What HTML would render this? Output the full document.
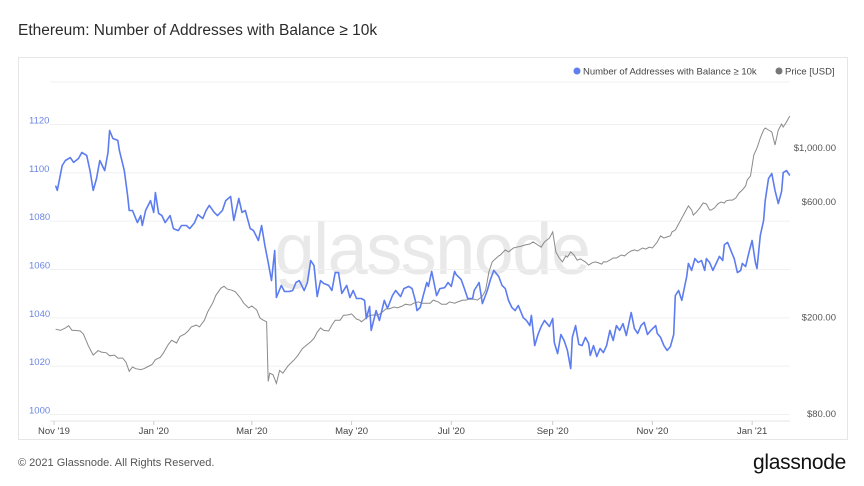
<!DOCTYPE html>
<html><head><meta charset="utf-8">
<style>
html,body{margin:0;padding:0;background:#fff;}
body{width:864px;height:486px;position:relative;overflow:hidden;font-family:"Liberation Sans",sans-serif;}
#title{position:absolute;left:18px;top:22px;font-size:15.5px;color:#2b2b2b;}
#card{position:absolute;left:18px;top:57px;width:830px;height:383px;border:1px solid #e6e6e6;box-sizing:border-box;}
#footer{position:absolute;left:18px;top:457px;font-size:11px;color:#555;}
#logo{position:absolute;left:753px;top:451px;font-size:21px;color:#111;letter-spacing:-0.3px;}
svg{position:absolute;left:0;top:0;}
</style></head><body>
<div id="title">Ethereum: Number of Addresses with Balance ≥ 10k</div>
<div id="card"></div>
<svg id="chart" width="864" height="486"></svg>
<div id="footer">© 2021 Glassnode. All Rights Reserved.</div>
<div id="logo">glassnode</div>
<script>
const leftTicks=[1000,1020,1040,1060,1080,1100,1120];
const rightTicks=[80,200,600,1000];
const rightTickLabels=["$80.00","$200.00","$600.00","$1,000.00"];
const xTickDays=[0,61,121,182,243,305,366,427];
const xTickLabels=["Nov '19","Jan '20","Mar '20","May '20","Jul '20","Sep '20","Nov '20","Jan '21"];
const addrSeries=[[1,94.7],[2,92.7],[5,103],[7,105.1],[10,106.3],[12,104.3],[15,105.9],[17,108.4],[20,107.2],[22,100.9],[24,92.7],[26,97.6],[28,105.1],[31,100.9],[33,108.4],[34,117.5],[36,114.2],[39,113.4],[40,109.2],[43,100.9],[45,90.6],[46,84.4],[48,84.4],[51,79.4],[53,82.3],[54,78.2],[56,84.4],[59,88.5],[61,83.6],[62,91.8],[64,83.2],[66,82.3],[68,79.4],[71,82.3],[73,76.9],[76,76.1],[78,78.2],[81,78.2],[83,76.9],[86,79.4],[88,82.7],[91,81.1],[93,84.4],[95,86.5],[98,83.6],[100,82.3],[103,84.4],[105,88.5],[108,90.2],[110,80.3],[113,89.4],[115,83.6],[117,84.4],[120,76.9],[122,76.1],[125,72],[127,78.2],[129,69.9],[131,62.9],[133,55.4],[135,67.8],[136,48.4],[139,53.4],[141,50.9],[144,50.9],[146,51.3],[148,54.6],[150,55.4],[153,51.3],[155,54.6],[157,63.7],[159,61.6],[161,48.8],[163,55.4],[165,54.2],[168,53.4],[170,51.3],[172,58.7],[174,58.7],[176,50.1],[179,53.4],[181,48.4],[183,51.3],[185,48],[188,48],[190,47.2],[191,39.7],[193,44.7],[194,34.8],[197,43],[199,38.9],[202,47.2],[204,43.9],[207,49.2],[209,51.3],[212,48.8],[214,52.1],[217,53],[219,52.1],[221,47.2],[222,43],[224,44.3],[226,49.6],[228,54.6],[229,53],[231,59.2],[234,49.2],[236,52.1],[239,52.5],[241,54.6],[243,53],[245,59.2],[246,57.9],[249,55.9],[251,52.1],[253,48],[256,48],[257,51.3],[260,54.6],[262,45.9],[265,51.3],[267,55.9],[269,59.6],[272,57.1],[274,53.4],[276,52.1],[278,47.2],[280,44.3],[282,43],[284,45.1],[287,40.1],[289,38.9],[291,36.8],[292,41],[294,28.5],[296,33.1],[298,36.4],[300,38.9],[303,36.4],[305,39.7],[306,29.8],[308,25.2],[310,33.1],[312,30.6],[314,26.5],[316,19],[317,31.9],[319,36.8],[321,29],[323,28.5],[325,31.9],[327,29.4],[328,24.4],[330,28.5],[332,24],[334,27.3],[336,25.6],[338,28.5],[340,34.8],[342,30.6],[344,36.8],[346,34.8],[348,37.6],[350,32.7],[352,38.9],[353,42.2],[355,35.6],[357,33.5],[359,36.8],[361,38.1],[363,33.1],[365,34.8],[368,36.8],[369,33.5],[371,31.9],[373,28.5],[375,26.5],[377,28.1],[379,33.1],[380,49.2],[382,51.3],[384,47.2],[387,57.1],[388,62.5],[390,59.6],[392,64.5],[394,62.9],[396,63.7],[398,59.6],[399,64.5],[401,62.9],[403,59.6],[405,62.5],[407,65.4],[409,63.7],[410,70.3],[412,71.2],[414,67.8],[416,64.5],[418,58.7],[420,59.6],[421,62.5],[423,61.2],[425,67],[427,72],[429,62.9],[430,60.4],[432,74.1],[434,80.3],[435,88.5],[437,97.6],[439,99.7],[441,92.7],[443,87.3],[445,92.3],[446,100.1],[448,100.9],[450,98.9]];
const priceSeries=[[1,179],[4,177],[7,181],[9,185],[11,177],[13,177],[16,176],[18,171],[21,153],[23,144],[24,140],[27,146],[29,144],[32,143],[34,139],[37,140],[39,136],[42,136],[44,131],[46,120],[48,125],[50,123],[53,122],[55,123],[57,125],[60,128],[62,134],[65,137],[67,143],[70,155],[72,161],[75,157],[77,167],[80,171],[82,176],[84,183],[87,186],[89,183],[92,195],[94,211],[97,229],[99,247],[102,264],[104,269],[106,262],[109,259],[111,255],[114,241],[116,229],[119,219],[121,223],[124,215],[126,199],[128,195],[130,192],[131,109],[132,118],[134,116],[136,107],[138,121],[140,118],[143,126],[144,128],[147,134],[149,139],[152,149],[154,153],[157,159],[159,164],[161,174],[163,181],[165,177],[168,176],[170,186],[172,195],[175,195],[177,204],[180,205],[182,207],[185,197],[187,195],[188,192],[191,199],[193,204],[196,205],[198,204],[201,211],[203,217],[205,217],[208,221],[210,219],[213,223],[215,227],[218,225],[220,229],[223,232],[225,229],[228,229],[230,229],[232,236],[235,232],[237,227],[240,227],[242,232],[245,229],[247,232],[250,236],[252,236],[254,238],[257,238],[259,236],[262,245],[264,259],[266,308],[268,339],[270,349],[272,359],[273,362],[276,380],[278,373],[281,387],[283,390],[286,394],[288,398],[291,402],[293,410],[295,402],[298,390],[300,410],[303,425],[305,451],[306,410],[307,373],[309,352],[311,339],[313,359],[314,355],[316,373],[318,362],[320,345],[322,349],[324,342],[325,339],[327,329],[329,336],[331,339],[333,336],[335,332],[336,339],[338,339],[340,345],[342,352],[344,352],[346,359],[347,362],[349,359],[351,369],[353,376],[355,380],[357,376],[358,380],[360,387],[362,383],[364,390],[366,387],[367,394],[369,410],[371,434],[373,425],[375,430],[377,434],[378,451],[380,459],[382,486],[384,514],[386,545],[388,577],[390,555],[391,529],[393,545],[395,566],[397,593],[399,588],[401,555],[402,555],[404,566],[406,588],[408,599],[410,593],[411,605],[413,610],[415,610],[417,622],[419,652],[421,671],[423,697],[424,738],[426,767],[428,936],[430,1000],[432,1099],[434,1186],[435,1209],[437,1186],[439,1164],[441,1029],[443,1186],[445,1256],[446,1221],[448,1280],[450,1355]];

const NS="http://www.w3.org/2000/svg";
const svg=document.getElementById('chart');
const xS=d=>54+d*1.635;
const yL=v=>414.5-(v-1000)*2.417;
const yR=p=>148+(3-Math.log10(p))*242.5;
function mk(tag,attrs,parent){const e=document.createElementNS(NS,tag);for(const k in attrs)e.setAttribute(k,attrs[k]);(parent||svg).appendChild(e);return e;}

// legend
const lg=mk('g',{});


const l1=mk('circle',{cx:577,cy:71,r:3.5,fill:'#5f7ff0'},lg);


const lt1=mk('text',{x:583,y:74.5,'font-size':9.5,fill:'#444'},lg);lt1.textContent='Number of Addresses with Balance ≥ 10k';


const l2=mk('circle',{cx:779,cy:71,r:3.5,fill:'#777'},lg);


const lt2=mk('text',{x:785,y:74.5,'font-size':9.5,fill:'#444'},lg);lt2.textContent='Price [USD]';


const lgl=mk('line',{x1:50,x2:790,y1:82,y2:82,stroke:'#f0f0f0'});



// watermark
const wm=mk('text',{x:432,y:274,'font-size':72,fill:'#e9e9e9','text-anchor':'middle','letter-spacing':'-1.5'});
wm.textContent='glassnode';



// gridlines & left ticks
leftTicks.forEach(v=>{
  const g=mk('line',{x1:50,x2:790,y1:yL(v),y2:yL(v),stroke:'#f0f0f0'});
  
  
  const t=mk('text',{x:29,y:yL(v)-1,'font-size':9.5,fill:'#6a86e2'});
  t.textContent=v;
  
  
});
rightTicks.forEach((p,i)=>{
  const t=mk('text',{x:836,y:yR(p)+3,'font-size':9.5,fill:'#555','text-anchor':'end'});
  t.textContent=rightTickLabels[i];
  
  
});
// x axis
const ax=mk('line',{x1:50,x2:790,y1:421,y2:421,stroke:'#e4e4e4'});


xTickDays.forEach((d,i)=>{
  const tk=mk('line',{x1:xS(d),x2:xS(d),y1:421,y2:425,stroke:'#ccc'});
  
  
  const t=mk('text',{x:xS(d),y:434,'font-size':9.5,fill:'#444','text-anchor':'middle'});
  t.textContent=xTickLabels[i];
  
  
});
// series
const pp=mk('path',{d:priceSeries.map((p,i)=>(i?'L':'M')+xS(p[0]).toFixed(1)+','+yR(p[1]).toFixed(1)).join(''),fill:'none',stroke:'#8a8a8a','stroke-width':1});


const ap=mk('path',{d:addrSeries.map((p,i)=>(i?'L':'M')+xS(p[0]).toFixed(1)+','+yL(1000+p[1]).toFixed(1)).join(''),fill:'none',stroke:'#5c7cf0','stroke-width':1.6,'stroke-linejoin':'round'});


</script>
</body></html>
